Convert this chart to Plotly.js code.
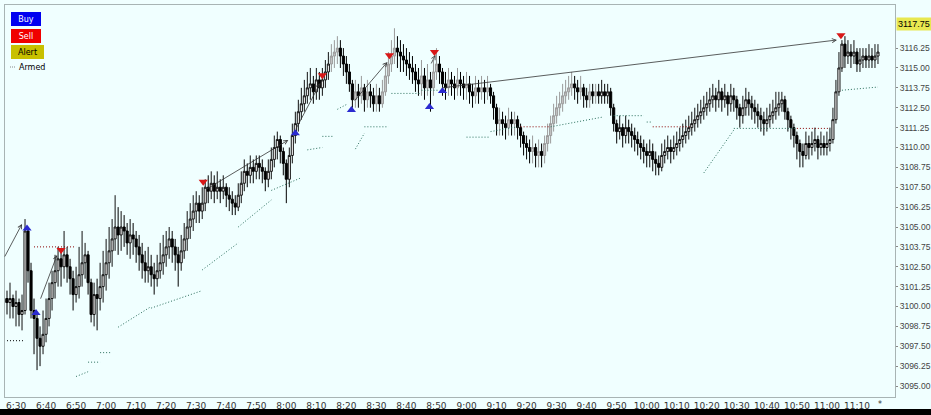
<!DOCTYPE html>
<html><head><meta charset="utf-8">
<script src="https://cdn.plot.ly/plotly-3.0.1.min.js"></script>
<style>html,body{margin:0;padding:0;background:#F0FFFF;}#chart{width:931px;height:415px;}</style>
</head><body><div id="chart"></div>
<script>
const DAY = "2019-11-29";
const firstBar = [6, 26];          // first 1-minute bar (hour, minute)
const greyFrom = "08:15", greyTo = "09:44";

const openP = [
3100.25,3100.50,3100.25,3100.50,3100.00,3100.25,3099.50,3099.75,3104.75,3102.25,
3099.75,3099.25,3098.00,3097.50,3098.25,3099.25,3100.50,3101.50,3102.25,3103.00,
3102.50,3103.25,3102.50,3101.75,3100.75,3101.25,3102.00,3102.75,3103.25,3101.50,
3099.50,3100.75,3100.50,3101.25,3102.00,3102.75,3103.50,3104.25,3105.00,3104.50,
3105.00,3104.75,3104.00,3104.50,3104.25,3103.75,3103.25,3102.75,3102.25,3102.50,
3102.00,3101.75,3102.25,3102.75,3103.25,3103.75,3104.25,3103.75,3103.25,3102.75,
3103.50,3104.25,3105.00,3105.50,3106.00,3106.50,3106.00,3106.50,3107.50,3107.25,
3107.75,3107.25,3107.50,3107.25,3107.50,3107.00,3106.75,3106.50,3106.25,3107.00,
3107.75,3108.50,3108.25,3108.75,3108.50,3109.00,3108.75,3108.50,3108.00,3108.50,
3109.25,3110.00,3110.50,3109.75,3109.00,3108.00,3109.50,3110.75,3111.50,3112.25,
3112.75,3113.25,3113.75,3114.00,3113.50,3114.25,3113.75,3114.25,3114.75,3115.25,
3115.75,3116.00,3116.25,3115.75,3115.25,3114.75,3114.00,3113.00,3113.50,3113.25,
3113.75,3113.00,3113.50,3113.25,3112.75,3113.25,3112.75,3113.50,3114.50,3115.25,
3115.75,3116.25,3116.00,3115.75,3115.50,3115.25,3115.00,3114.75,3114.25,3114.00,
3114.50,3113.75,3114.25,3113.75,3114.75,3115.25,3114.75,3114.00,3113.75,3114.25,
3114.00,3113.75,3114.25,3114.00,3113.75,3114.00,3113.50,3113.25,3113.75,3113.50,
3113.75,3113.50,3113.75,3113.25,3112.50,3111.50,3111.75,3111.50,3111.25,3111.75,
3111.50,3111.75,3111.25,3110.75,3110.25,3110.00,3109.75,3110.00,3109.50,3109.75,
3109.50,3110.25,3110.75,3111.50,3112.00,3112.50,3112.75,3113.25,3113.50,3113.75,
3114.00,3113.75,3113.50,3113.75,3113.25,3113.00,3113.50,3113.25,3113.50,3113.25,
3113.50,3113.25,3113.50,3112.50,3111.50,3111.00,3111.25,3110.75,3111.25,3111.00,
3110.75,3110.50,3110.25,3110.00,3109.75,3109.50,3109.75,3109.25,3109.00,3108.75,
3109.50,3109.75,3110.00,3109.75,3110.00,3110.25,3110.50,3110.75,3111.00,3111.25,
3111.50,3111.75,3112.00,3112.25,3112.50,3112.75,3113.00,3113.25,3113.00,3113.50,
3113.00,3113.25,3112.75,3113.25,3113.00,3112.50,3112.00,3112.50,3113.00,3112.75,
3112.50,3112.25,3112.00,3111.75,3111.50,3111.75,3112.00,3112.25,3112.50,3112.75,
3113.00,3112.25,3111.75,3111.25,3110.75,3110.25,3109.75,3109.50,3110.25,3110.00,
3110.25,3110.50,3110.00,3110.25,3110.00,3110.25,3110.50,3111.75,3113.50,3115.00,
3116.50,3115.75,3116.00,3115.75,3116.00,3115.25,3115.50,3115.75,3115.50,3115.75,3115.50,3115.75
];
const highP = [
3101.25,3101.00,3101.50,3100.75,3101.00,3100.50,3100.75,3105.50,3105.00,3102.75,
3100.50,3099.50,3098.75,3099.75,3100.50,3101.50,3102.25,3103.25,3103.75,3103.50,
3104.75,3103.75,3103.00,3102.25,3102.50,3103.75,3104.75,3104.00,3103.50,3101.75,
3101.50,3101.75,3102.75,3103.50,3104.25,3105.00,3105.50,3107.00,3106.25,3106.00,
3105.75,3105.25,3105.50,3105.25,3104.75,3104.50,3104.00,3103.50,3103.75,3103.25,
3102.75,3103.25,3104.00,3104.50,3104.75,3105.00,3104.75,3104.25,3103.75,3104.50,
3105.25,3106.00,3106.50,3107.00,3107.25,3107.00,3107.50,3108.00,3108.25,3108.50,
3108.25,3108.50,3108.00,3108.25,3107.75,3107.50,3107.25,3107.00,3107.75,3108.50,
3109.25,3109.00,3109.50,3109.25,3109.50,3109.50,3109.25,3108.75,3109.25,3110.00,
3110.75,3111.00,3110.75,3110.00,3109.25,3110.00,3111.50,3112.25,3113.00,3113.75,
3114.25,3114.75,3115.00,3114.50,3115.00,3114.75,3115.00,3115.50,3116.00,3116.50,
3116.75,3117.00,3116.75,3116.25,3115.75,3115.25,3114.25,3114.25,3114.00,3114.50,
3114.00,3114.25,3114.00,3113.75,3114.00,3113.75,3114.25,3115.25,3116.00,3116.75,
3117.50,3117.00,3116.75,3116.50,3116.25,3116.00,3115.75,3115.25,3115.00,3115.50,
3115.00,3115.25,3114.75,3115.50,3116.25,3115.75,3115.00,3114.75,3115.00,3114.75,
3114.50,3115.00,3114.75,3114.50,3114.75,3114.50,3114.00,3114.50,3114.25,3114.50,
3114.25,3114.50,3114.00,3113.50,3112.75,3112.50,3112.25,3112.00,3112.50,3112.25,
3112.25,3112.00,3111.50,3111.00,3110.75,3110.50,3110.75,3110.25,3110.50,3110.25,
3110.75,3111.50,3112.00,3112.75,3113.25,3113.50,3114.00,3114.25,3114.50,3114.75,
3114.50,3114.25,3114.50,3114.00,3113.75,3114.00,3114.00,3114.00,3114.00,3114.25,
3114.00,3114.00,3113.75,3112.75,3111.75,3112.00,3111.50,3112.00,3111.75,3111.50,
3111.25,3111.00,3110.75,3110.50,3110.25,3110.50,3110.25,3109.75,3109.50,3110.25,
3110.50,3110.75,3110.50,3110.75,3111.00,3111.25,3111.50,3111.75,3112.00,3112.25,
3112.50,3112.75,3113.00,3113.25,3113.50,3113.75,3114.00,3113.75,3114.25,3113.75,
3114.00,3113.50,3114.00,3113.75,3113.25,3112.75,3113.25,3113.75,3113.50,3113.25,
3113.00,3112.75,3112.50,3112.25,3112.50,3112.75,3113.00,3113.50,3113.50,3113.50,
3113.25,3112.50,3112.00,3111.50,3111.00,3110.50,3110.25,3111.00,3110.75,3111.00,
3111.25,3110.75,3111.00,3110.75,3111.00,3111.25,3112.50,3114.25,3116.00,3116.75,
3117.00,3116.75,3116.50,3116.75,3116.25,3116.25,3116.25,3116.25,3116.50,3116.25,3116.50,3116.50
];
const lowP = [
3099.75,3099.50,3099.25,3099.25,3098.75,3098.75,3098.50,3099.50,3101.50,3099.25,
3097.00,3096.00,3096.25,3097.00,3097.75,3098.75,3099.75,3100.50,3101.25,3101.25,
3101.75,3101.50,3100.75,3099.75,3100.25,3100.50,3101.25,3101.75,3100.75,3099.00,
3098.75,3098.50,3099.75,3100.25,3101.00,3101.75,3102.50,3103.50,3103.25,3103.50,
3103.75,3103.25,3103.00,3103.25,3102.75,3102.25,3101.75,3101.50,3101.50,3101.25,
3100.75,3101.25,3101.75,3102.00,3102.50,3103.00,3102.75,3102.25,3101.25,3102.25,
3103.00,3103.50,3104.25,3104.75,3105.25,3105.25,3105.50,3106.00,3106.50,3106.75,
3106.50,3106.75,3106.50,3106.75,3106.25,3106.00,3105.75,3105.75,3106.00,3106.50,
3107.25,3107.50,3107.75,3107.75,3108.00,3108.00,3107.75,3107.25,3107.50,3108.00,
3108.75,3109.25,3109.00,3108.25,3106.50,3107.50,3109.00,3110.25,3111.00,3111.75,
3112.25,3112.75,3113.00,3112.75,3113.00,3113.00,3113.25,3113.75,3114.25,3114.75,
3115.00,3115.25,3115.00,3114.50,3114.00,3113.50,3112.50,3112.50,3112.50,3112.75,
3112.25,3112.50,3112.50,3112.25,3112.25,3112.25,3112.50,3113.25,3114.00,3114.75,
3115.25,3115.00,3114.75,3114.75,3114.50,3114.25,3114.00,3113.50,3113.25,3113.25,
3113.00,3113.25,3112.25,3113.25,3114.25,3114.00,3113.25,3113.00,3113.25,3113.25,
3113.00,3113.25,3113.25,3113.00,3113.00,3112.75,3112.50,3112.75,3112.75,3113.00,
3112.75,3113.00,3112.75,3111.75,3110.75,3110.75,3110.75,3110.50,3110.75,3110.75,
3110.75,3110.50,3110.00,3109.50,3109.25,3109.00,3109.00,3108.75,3108.75,3108.75,
3109.00,3109.75,3110.25,3111.00,3111.50,3112.00,3112.25,3112.75,3113.00,3113.25,
3113.00,3112.75,3113.00,3112.50,3112.50,3112.50,3112.75,3112.75,3112.75,3112.75,
3112.75,3112.75,3112.00,3111.00,3110.25,3110.50,3110.00,3110.25,3110.25,3110.00,
3109.75,3109.50,3109.25,3109.00,3108.75,3108.75,3108.50,3108.25,3108.25,3108.50,
3109.00,3109.25,3109.00,3109.25,3109.50,3109.75,3110.00,3110.25,3110.50,3110.75,
3111.00,3111.25,3111.50,3111.75,3112.00,3112.25,3112.50,3112.25,3112.50,3112.25,
3112.50,3112.00,3112.25,3112.25,3111.75,3111.25,3111.50,3112.00,3112.00,3111.75,
3111.50,3111.25,3111.00,3110.75,3111.00,3111.25,3111.50,3111.75,3112.00,3112.25,
3111.75,3111.00,3110.50,3110.00,3109.25,3108.75,3108.75,3109.25,3109.25,3109.50,
3109.75,3109.25,3109.50,3109.50,3109.50,3109.75,3110.25,3111.50,3113.25,3114.75,
3115.00,3115.25,3115.00,3115.25,3114.75,3114.75,3115.00,3115.00,3115.00,3115.00,3115.00,3115.25
];
const closeP = [
3100.50,3100.25,3100.50,3100.00,3100.25,3099.50,3099.75,3104.75,3102.25,3099.75,
3099.25,3098.00,3097.50,3098.25,3099.25,3100.50,3101.50,3102.25,3103.00,3102.50,
3103.25,3102.50,3101.75,3100.75,3101.25,3102.00,3102.75,3103.25,3101.50,3099.50,
3100.75,3100.50,3101.25,3102.00,3102.75,3103.50,3104.25,3105.00,3104.50,3105.00,
3104.75,3104.00,3104.50,3104.25,3103.75,3103.25,3102.75,3102.25,3102.50,3102.00,
3101.75,3102.25,3102.75,3103.25,3103.75,3104.25,3103.75,3103.25,3102.75,3103.50,
3104.25,3105.00,3105.50,3106.00,3106.50,3106.00,3106.50,3107.50,3107.25,3107.75,
3107.25,3107.50,3107.25,3107.50,3107.00,3106.75,3106.50,3106.25,3107.00,3107.75,
3108.50,3108.25,3108.75,3108.50,3109.00,3108.75,3108.50,3108.00,3108.50,3109.25,
3110.00,3110.50,3109.75,3109.00,3108.00,3109.50,3110.75,3111.50,3112.25,3112.75,
3113.25,3113.75,3114.00,3113.50,3114.25,3113.75,3114.25,3114.75,3115.25,3115.75,
3116.00,3116.25,3115.75,3115.25,3114.75,3114.00,3113.00,3113.50,3113.25,3113.75,
3113.00,3113.50,3113.25,3112.75,3113.25,3112.75,3113.50,3114.50,3115.25,3115.75,
3116.25,3116.00,3115.75,3115.50,3115.25,3115.00,3114.75,3114.25,3114.00,3114.50,
3113.75,3114.25,3113.75,3114.75,3115.25,3114.75,3114.00,3113.75,3114.25,3114.00,
3113.75,3114.25,3114.00,3113.75,3114.00,3113.50,3113.25,3113.75,3113.50,3113.75,
3113.50,3113.75,3113.25,3112.50,3111.50,3111.75,3111.50,3111.25,3111.75,3111.50,
3111.75,3111.25,3110.75,3110.25,3110.00,3109.75,3110.00,3109.50,3109.75,3109.50,
3110.25,3110.75,3111.50,3112.00,3112.50,3112.75,3113.25,3113.50,3113.75,3114.00,
3113.75,3113.50,3113.75,3113.25,3113.00,3113.50,3113.25,3113.50,3113.25,3113.50,
3113.25,3113.50,3112.50,3111.50,3111.00,3111.25,3110.75,3111.25,3111.00,3110.75,
3110.50,3110.25,3110.00,3109.75,3109.50,3109.75,3109.25,3109.00,3108.75,3109.50,
3109.75,3110.00,3109.75,3110.00,3110.25,3110.50,3110.75,3111.00,3111.25,3111.50,
3111.75,3112.00,3112.25,3112.50,3112.75,3113.00,3113.25,3113.00,3113.50,3113.00,
3113.25,3112.75,3113.25,3113.00,3112.50,3112.00,3112.50,3113.00,3112.75,3112.50,
3112.25,3112.00,3111.75,3111.50,3111.75,3112.00,3112.25,3112.50,3112.75,3113.00,
3112.25,3111.75,3111.25,3110.75,3110.25,3109.75,3109.50,3110.25,3110.00,3110.25,
3110.50,3110.00,3110.25,3110.00,3110.25,3110.50,3111.75,3113.50,3115.00,3116.50,
3115.75,3116.00,3115.75,3116.00,3115.25,3115.50,3115.75,3115.50,3115.75,3115.50,3115.75,3116.00
];

// trailing stop segments (from time, to time, from level, to level)
const greenFromT = ["06:50","06:54","06:58","07:04","07:15","07:32","07:44","07:55","08:07","08:12","08:17","08:23","08:26","08:35","08:45","09:00","09:08","09:28","09:49","10:00","10:19","10:29","11:05"];
const greenToT   = ["06:54","06:58","07:02","07:15","07:32","07:44","07:55","08:05","08:12","08:16","08:20","08:26","08:34","08:45","08:51","09:08","09:17","09:45","09:59","10:02","10:29","10:50","11:17"];
const greenFromP = [3095.60,3096.50,3097.10,3098.70,3099.90,3102.30,3105.00,3107.30,3109.85,3110.70,3112.40,3109.90,3111.30,3113.40,3113.60,3110.65,3111.00,3111.30,3112.00,3111.60,3108.40,3111.20,3113.60];
const greenToP   = [3095.90,3096.50,3097.10,3100.00,3101.00,3104.00,3106.70,3108.10,3110.00,3110.70,3112.70,3110.90,3111.30,3113.40,3113.60,3110.65,3111.30,3111.90,3112.00,3111.60,3111.10,3111.20,3113.80];
const redFromT = ["06:36","09:18","10:02","10:50"];
const redToT   = ["06:50","09:28","10:15","11:01"];
const redLevel = [3103.75,3111.30,3111.30,3111.20];
const blackFromT = ["06:26"];
const blackToT   = ["06:33"];
const blackLevel = [3097.85];

// buy / sell signals
const buyT = ["06:33:40","06:36:40","08:03:00","08:21:40","08:47:40","08:52:00"];
const buyP = [3104.90,3099.60,3110.90,3112.35,3112.55,3113.55];
const sellT = ["06:45:00","07:32:20","08:12:00","08:34:20","08:49:20","11:04:40"];
const sellP = [3103.55,3107.85,3114.55,3115.80,3116.00,3117.05];

// trend arrows (tail -> head)
const arrowFromT = ["06:26:00","06:38:00","07:33:00","08:03:00","08:22:20","08:48:00","08:51:20"];
const arrowFromP = [3103.05,3100.40,3107.33,3111.10,3112.86,3115.19,3113.74];
const arrowToT   = ["06:32:00","06:43:40","08:00:40","08:11:20","08:33:40","08:49:40","11:03:20"];
const arrowToP   = [3105.19,3103.24,3110.47,3114.06,3115.38,3115.82,3116.76];

const lastPrice = 3117.75;
const xTickLabels = ["6:30","6:40","6:50","7:00","7:10","7:20","7:30","7:40","7:50","8:00","8:10","8:20","8:30","8:40","8:50","9:00","9:10","9:20","9:30","9:40","9:50","10:00","10:10","10:20","10:30","10:40","10:50","11:00","11:10"];
const yTickVals = [3095.00,3096.25,3097.50,3098.75,3100.00,3101.25,3102.50,3103.75,3105.00,3106.25,3107.50,3108.75,3110.00,3111.25,3112.50,3113.75,3115.00,3116.25];

function pad(n){return (n<10?"0":"")+n;}
function at(hms){return DAY+" "+hms;}
const times = openP.map((_,i)=>{const m=firstBar[0]*60+firstBar[1]+i;return at(pad(Math.floor(m/60))+":"+pad(m%60));});
const xTickVals = xTickLabels.map(l=>{const p=l.split(":");return at(pad(+p[0])+":"+p[1]);});

const normal={x:[],open:[],high:[],low:[],close:[]}, grey={x:[],open:[],high:[],low:[],close:[]};
const gA=at(greyFrom), gB=at(greyTo);
times.forEach((t,i)=>{
  const tgt = (t>=gA && t<=gB) ? grey : normal;
  tgt.x.push(t); tgt.open.push(openP[i]); tgt.high.push(highP[i]); tgt.low.push(lowP[i]); tgt.close.push(closeP[i]);
});

function segs(fromT,toT,fromP,toP){
  const x=[],y=[];
  fromT.forEach((f,i)=>{x.push(at(f),at(toT[i]),null);y.push(fromP[i],toP[i],null);});
  return {x,y};
}
const g=segs(greenFromT,greenToT,greenFromP,greenToP);
const r=segs(redFromT,redToT,redLevel,redLevel);
const b=segs(blackFromT,blackToT,blackLevel,blackLevel);

const traces=[
 {type:'candlestick',x:normal.x,open:normal.open,high:normal.high,low:normal.low,close:normal.close,
  increasing:{line:{color:'#111',width:1},fillcolor:'#FFFFFF'},decreasing:{line:{color:'#000',width:1},fillcolor:'#000'},hoverinfo:'skip'},
 {type:'candlestick',x:grey.x,open:grey.open,high:grey.high,low:grey.low,close:grey.close,
  increasing:{line:{color:'#9A9A9A',width:1},fillcolor:'#C4C4C4'},decreasing:{line:{color:'#000',width:1},fillcolor:'#000'},hoverinfo:'skip'},
 {type:'scatter',mode:'lines',x:g.x,y:g.y,line:{color:'#2A6E5C',width:1,dash:'1px,2px'},hoverinfo:'skip'},
 {type:'scatter',mode:'lines',x:r.x,y:r.y,line:{color:'#8B0000',width:1,dash:'1px,2px'},hoverinfo:'skip'},
 {type:'scatter',mode:'lines',x:b.x,y:b.y,line:{color:'#000',width:1,dash:'1px,2px'},hoverinfo:'skip'},
 {type:'scatter',mode:'markers',x:buyT.map(at),y:buyP,marker:{symbol:'triangle-up',size:8,color:'#2B2BD0',line:{width:0}},hoverinfo:'skip'},
 {type:'scatter',mode:'markers',x:sellT.map(at),y:sellP,marker:{symbol:'triangle-down',size:8,color:'#D81818',line:{width:0}},hoverinfo:'skip'}
];

const F='DejaVu Sans', FA='Liberation Sans';
const annotations = arrowFromT.map((f,i)=>({x:at(arrowToT[i]),y:arrowToP[i],ax:at(f),ay:arrowFromP[i],xref:'x',yref:'y',axref:'x',ayref:'y',
  showarrow:true,arrowhead:5,arrowsize:1,arrowwidth:0.8,arrowcolor:'#333',text:''}));
function btn(txt,cx,cy,w,bg,fc){return {xref:'paper',yref:'paper',x:(cx-5)/889,y:(397-cy)/392,xanchor:'center',yanchor:'middle',
  text:txt,showarrow:false,width:w,height:12,bgcolor:bg,bordercolor:bg,borderwidth:1,borderpad:0,font:{family:F,size:8,color:fc}};}
annotations.push(btn('Buy',25.5,19,28,'#0000F0','#FFFFFF'));
annotations.push(btn('Sell',25.5,36,28,'#F00000','#FFFFFF'));
annotations.push(btn('Alert',27,52.5,31,'#C8C000','#000000'));
annotations.push({xref:'paper',yref:'paper',x:(17-5)/889,y:(397-67)/392,xanchor:'left',yanchor:'middle',text:'Armed',showarrow:false,font:{family:F,size:8,color:'#000'}});
annotations.push({xref:'paper',yref:'y',x:1,y:lastPrice,xanchor:'left',yanchor:'middle',xshift:1,text:lastPrice.toFixed(2),showarrow:false,
  bgcolor:'#E8E850',borderpad:1,font:{family:FA,size:9,color:'#000'}});
annotations.push({xref:'paper',yref:'paper',x:(879-5)/889,y:-(404-397)/392,xanchor:'center',yanchor:'middle',text:'*',showarrow:false,font:{family:F,size:8,color:'#333'}});

const layout={
 width:931,height:415,margin:{l:5,r:36,t:5,b:18,pad:0},
 paper_bgcolor:'#F0FFFF',plot_bgcolor:'#F0FFFF',showlegend:false,boxgap:0,
 xaxis:{type:'date',range:[at('06:26:20'),at('11:22:40')],rangeslider:{visible:false},showgrid:false,zeroline:false,
   showline:true,mirror:true,linecolor:'#A8B4B4',linewidth:1,ticks:'',tickmode:'array',tickvals:xTickVals,ticktext:xTickLabels,
   tickfont:{family:F,size:9,color:'#333'},fixedrange:true},
 yaxis:{side:'right',range:[3094.31,3118.96],tickmode:'array',tickvals:yTickVals,ticktext:yTickVals.map(v=>v.toFixed(2)),showgrid:false,zeroline:false,
   showline:true,mirror:true,linecolor:'#A8B4B4',linewidth:1,ticks:'outside',ticklen:2,tickcolor:'#888',
   tickfont:{family:FA,size:8.5,color:'#444'},fixedrange:true},
 annotations:annotations,
 shapes:[
  {type:'rect',xref:'paper',yref:'paper',x0:-0.01,x1:1.05,y0:-(415-397)/392,y1:-(409-397)/392,fillcolor:'#000',line:{width:0},layer:'above'},
  {type:'line',xref:'paper',yref:'paper',x0:(10-5)/889,x1:(15-5)/889,y0:(397-67)/392,y1:(397-67)/392,line:{color:'#888',width:1,dash:'1px,1px'}}
 ]
};
Plotly.newPlot('chart',traces,layout,{displayModeBar:false,staticPlot:true});
</script></body></html>
